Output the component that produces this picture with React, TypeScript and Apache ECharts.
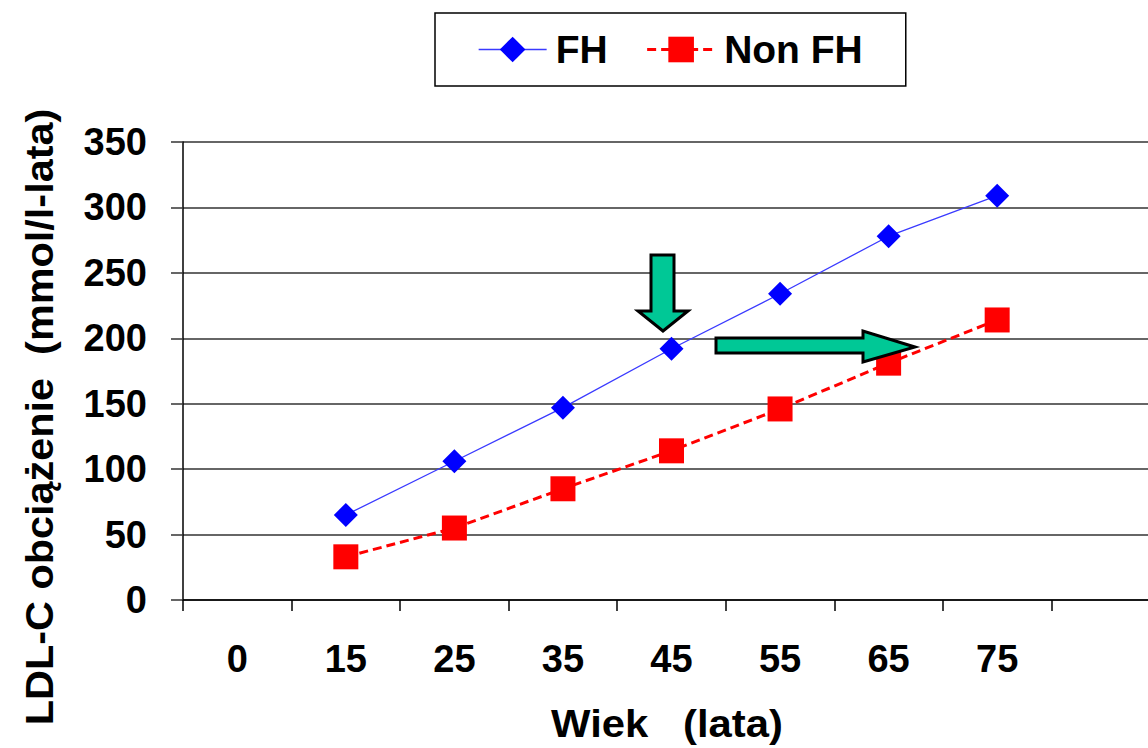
import React, { useEffect, useRef } from "react";
import * as echarts from "echarts";

// Age groups (years); the leading "0" and the trailing blank slot have no data
const ageLabels = ["0", "15", "25", "35", "45", "55", "65", "75", ""];
// Cumulative LDL-C burden (mmol/l-years)
const fhValues = [null, 65, 106, 147, 192, 234, 278, 309, null];
const nonFhValues = [null, 33, 55, 85, 114, 146, 181, 214, null];
const yTicks = { min: 0, max: 350, interval: 50 };

const FONT = "'Liberation Sans', Arial, sans-serif";

export default function App() {
  const ref = useRef<HTMLDivElement>(null);

  useEffect(() => {
    if (!ref.current) return;
    const chart = echarts.init(ref.current, null, { renderer: "svg" });

    const arrowFill = "#00c896";
    const titleStyle = {
      fontFamily: FONT,
      fontWeight: "bold",
      fontSize: 38,
      fill: "#000000",
      align: "center",
      verticalAlign: "middle",
    };

    chart.setOption({
      animation: false,
      backgroundColor: "#ffffff",
      textStyle: { fontFamily: FONT },
      legend: {
        left: 435,
        top: 13,
        padding: [17, 43, 17, 43],
        itemGap: 38,
        itemWidth: 68,
        itemHeight: 32,
        borderColor: "#000000",
        borderWidth: 1.5,
        lineStyle: { width: "inherit" },
        textStyle: {
          fontFamily: FONT,
          fontWeight: "bold",
          fontSize: 39,
          color: "#000000",
          padding: [0, 0, 0, 4],
          lineHeight: 38,
        },
        data: ["FH", "Non FH"],
      },
      grid: { left: 183, right: 0, top: 142, bottom: 148 },
      xAxis: {
        type: "category",
        data: ageLabels,
        boundaryGap: true,
        axisLine: { lineStyle: { color: "#000000", width: 1.5 } },
        axisTick: { show: true, length: 11, lineStyle: { color: "#000000", width: 1.5 } },
        axisLabel: {
          margin: 40,
          fontFamily: FONT,
          fontWeight: "bold",
          fontSize: 38,
          color: "#000000",
        },
      },
      yAxis: {
        type: "value",
        min: yTicks.min,
        max: yTicks.max,
        interval: yTicks.interval,
        axisLine: { show: true, lineStyle: { color: "#000000", width: 1.5 } },
        axisTick: { show: true, length: 12, lineStyle: { color: "#333333", width: 1.5 } },
        splitLine: { show: true, lineStyle: { color: "#333333", width: 1.5 } },
        axisLabel: {
          margin: 36,
          fontFamily: FONT,
          fontWeight: "bold",
          fontSize: 38,
          color: "#000000",
        },
      },
      series: [
        {
          name: "FH",
          type: "line",
          data: fhValues,
          symbol: "diamond",
          symbolSize: 24,
          itemStyle: { color: "#0000ff" },
          lineStyle: { color: "#3a3aff", width: 1.3 },
          z: 3,
        },
        {
          name: "Non FH",
          type: "line",
          data: nonFhValues,
          symbol: "rect",
          symbolSize: 25,
          itemStyle: { color: "#ff0000" },
          lineStyle: { color: "#ff0000", width: 3, type: [9, 5] },
          z: 2,
        },
      ],
      graphic: [
        {
          // y-axis title
          type: "text",
          x: 40,
          y: 417,
          rotation: Math.PI / 2,
          scaleX: 1.09,
          style: { ...titleStyle, text: "LDL-C obciążenie  (mmol/l-lata)" },
        },
        {
          // x-axis title
          type: "text",
          x: 667,
          y: 724,
          scaleX: 1.1,
          style: { ...titleStyle, text: "Wiek   (lata)" },
        },
        {
          // downward arrow
          type: "polygon",
          z: 10,
          shape: {
            points: [
              [651, 255],
              [674, 255],
              [674, 311],
              [688, 311],
              [663, 331],
              [638, 311],
              [651, 311],
            ],
          },
          style: { fill: arrowFill, stroke: "#000000", lineWidth: 3, lineJoin: "miter" },
        },
        {
          // rightward arrow
          type: "polygon",
          z: 10,
          shape: {
            points: [
              [716, 338],
              [863, 338],
              [863, 331],
              [915, 347],
              [863, 362],
              [863, 353],
              [716, 353],
            ],
          },
          style: { fill: arrowFill, stroke: "#000000", lineWidth: 3, lineJoin: "miter" },
        },
      ],
    });

    return () => chart.dispose();
  }, []);

  return (
    <div
      ref={ref}
      style={{ position: "fixed", left: 0, top: 0, width: 1160, height: 748 }}
    />
  );
}
